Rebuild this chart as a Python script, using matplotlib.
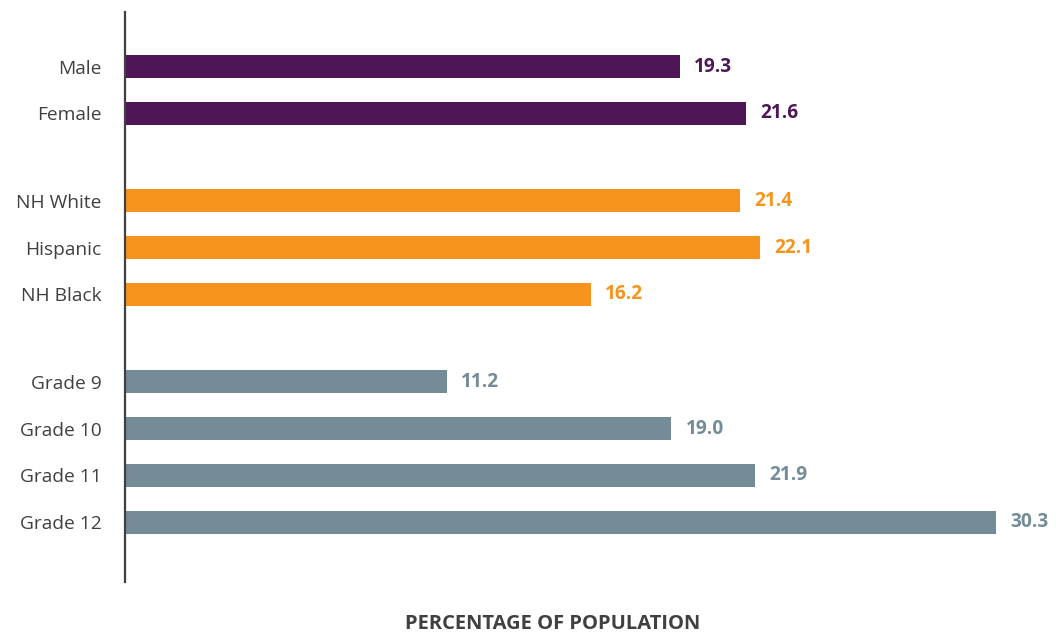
import matplotlib
matplotlib.use("Agg")
import matplotlib.pyplot as plt

# data
groups = [
    ["Male", "Female"],
    ["NH White", "Hispanic", "NH Black"],
    ["Grade 9", "Grade 10", "Grade 11", "Grade 12"],
]
values = [
    [19.3, 21.6],
    [21.4, 22.1, 16.2],
    [11.2, 19.0, 21.9, 30.3],
]
group_colors = ["#4f1657", "#f7941d", "#748c98"]
xlabel = "PERCENTAGE OF POPULATION"

plt.rcParams["font.family"] = ["Open Sans", "DejaVu Sans"]

fig = plt.figure(figsize=(10.56, 6.33), dpi=100)
ax = fig.add_axes([125 / 1056, 1 - 582 / 633, 920 / 1056, 570 / 633])

gap = 0.87  # extra space between groups
pos = 0.0
ypos, labels = [], []
for g, (cats, vals, col) in enumerate(zip(groups, values, group_colors)):
    for c, v in zip(cats, vals):
        ax.barh(pos, v, height=0.49, color=col)
        ax.text(v + 0.5, pos, f"{v:.1f}", va="center", ha="left",
                color=col, fontsize=13.8, fontweight="bold")
        ypos.append(pos)
        labels.append(c)
        pos += 1
    pos += gap

ax.set_yticks(ypos)
ax.set_yticklabels(labels, fontsize=13.8, color="#404040")
ax.tick_params(axis="y", length=0, pad=17)
ax.set_xticks([])
ax.set_xlim(0, 32)
ax.set_ylim(ypos[-1] + 1.28, -1.17)

for s in ["top", "right", "bottom"]:
    ax.spines[s].set_visible(False)
ax.spines["left"].set_color("#404040")
ax.spines["left"].set_linewidth(1.6)

fig.text(553 / 1056, 1 - 624 / 633, xlabel, ha="center", va="center",
         fontsize=14.5, fontweight="bold", color="#404040")

fig.savefig("out.png", dpi=100)
